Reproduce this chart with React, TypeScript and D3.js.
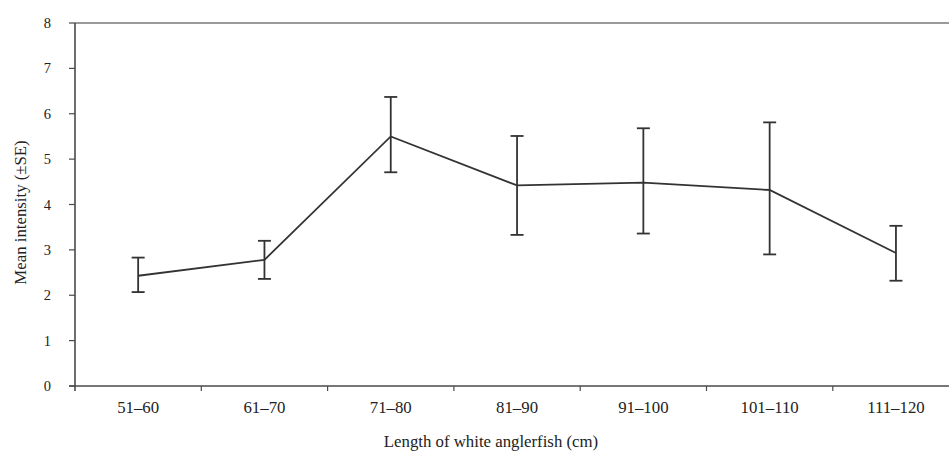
import React from "react";
import * as d3 from "d3";

const categories = ["51–60", "61–70", "71–80", "81–90", "91–100", "101–110", "111–120"];
const means = [2.43, 2.78, 5.5, 4.42, 4.48, 4.32, 2.93];
const upper = [2.83, 3.2, 6.37, 5.51, 5.68, 5.81, 3.53];
const lower = [2.07, 2.36, 4.71, 3.33, 3.36, 2.9, 2.32];
const yTicks = [0, 1, 2, 3, 4, 5, 6, 7, 8];
const xTitle = "Length of white anglerfish (cm)";
const yTitle = "Mean intensity (±SE)";

const W = 949;
const H = 455;
const left = 75;
const top = 23;
const bottom = 386;
const bandW = 126.3;

export default function App() {
  const x = d3
    .scaleBand<string>()
    .domain(categories)
    .range([left, left + bandW * categories.length])
    .paddingInner(0)
    .paddingOuter(0);
  const y = d3.scaleLinear().domain([0, 8]).range([bottom, top]);
  const cx = (c: string) => (x(c) as number) + x.bandwidth() / 2;
  const line = d3
    .line<number>()
    .x((_, i) => cx(categories[i]))
    .y((d) => y(d));
  const font = "'Liberation Serif', 'Times New Roman', serif";
  const axisColor = "#4a4a4a";
  const capHalf = 6.5;

  return (
    <svg
      width={W}
      height={H}
      style={{ position: "absolute", left: 0, top: 0, background: "#fff" }}
      fontFamily={font}
    >
      {/* top border */}
      <line x1={left} x2={W} y1={y(8)} y2={y(8)} stroke="#9a9a9a" strokeWidth={2} />
      {/* y axis */}
      <line x1={left} x2={left} y1={y(8)} y2={bottom + 5} stroke={axisColor} strokeWidth={1.6} />
      {yTicks.map((t) => (
        <g key={t}>
          <line x1={left - 6} x2={left} y1={y(t)} y2={y(t)} stroke={axisColor} strokeWidth={1.2} />
          <text x={51} y={y(t)} dy="0.35em" textAnchor="end" fontSize={14.5} fill="#222">
            {t}
          </text>
        </g>
      ))}
      {/* x axis */}
      <line x1={left - 6} x2={W} y1={bottom} y2={bottom} stroke={axisColor} strokeWidth={1.6} />
      {categories.map((c, i) => (
        <g key={c}>
          {i > 0 && (
            <line
              x1={x(c) as number}
              x2={x(c) as number}
              y1={bottom}
              y2={bottom + 5}
              stroke={axisColor}
              strokeWidth={1.2}
            />
          )}
          <text x={cx(c)} y={bottom + 21} dy="0.35em" textAnchor="middle" fontSize={16.8} fill="#222">
            {c}
          </text>
        </g>
      ))}
      {/* error bars */}
      {categories.map((c, i) => (
        <g key={"e" + c} stroke="#333" strokeWidth={1.8}>
          <line x1={cx(c)} x2={cx(c)} y1={y(upper[i])} y2={y(lower[i])} />
          <line x1={cx(c) - capHalf} x2={cx(c) + capHalf} y1={y(upper[i])} y2={y(upper[i])} />
          <line x1={cx(c) - capHalf} x2={cx(c) + capHalf} y1={y(lower[i])} y2={y(lower[i])} />
        </g>
      ))}
      {/* mean line */}
      <path d={line(means) as string} fill="none" stroke="#333" strokeWidth={1.8} />
      {/* titles */}
      <text x={491} y={441} dy="0.35em" textAnchor="middle" fontSize={16.8} fill="#222">
        {xTitle}
      </text>
      <text
        transform={`translate(20, ${(top + bottom) / 2 + 8}) rotate(-90)`}
        dy="0.35em"
        textAnchor="middle"
        fontSize={16.8}
        fill="#222"
      >
        {yTitle}
      </text>
    </svg>
  );
}
